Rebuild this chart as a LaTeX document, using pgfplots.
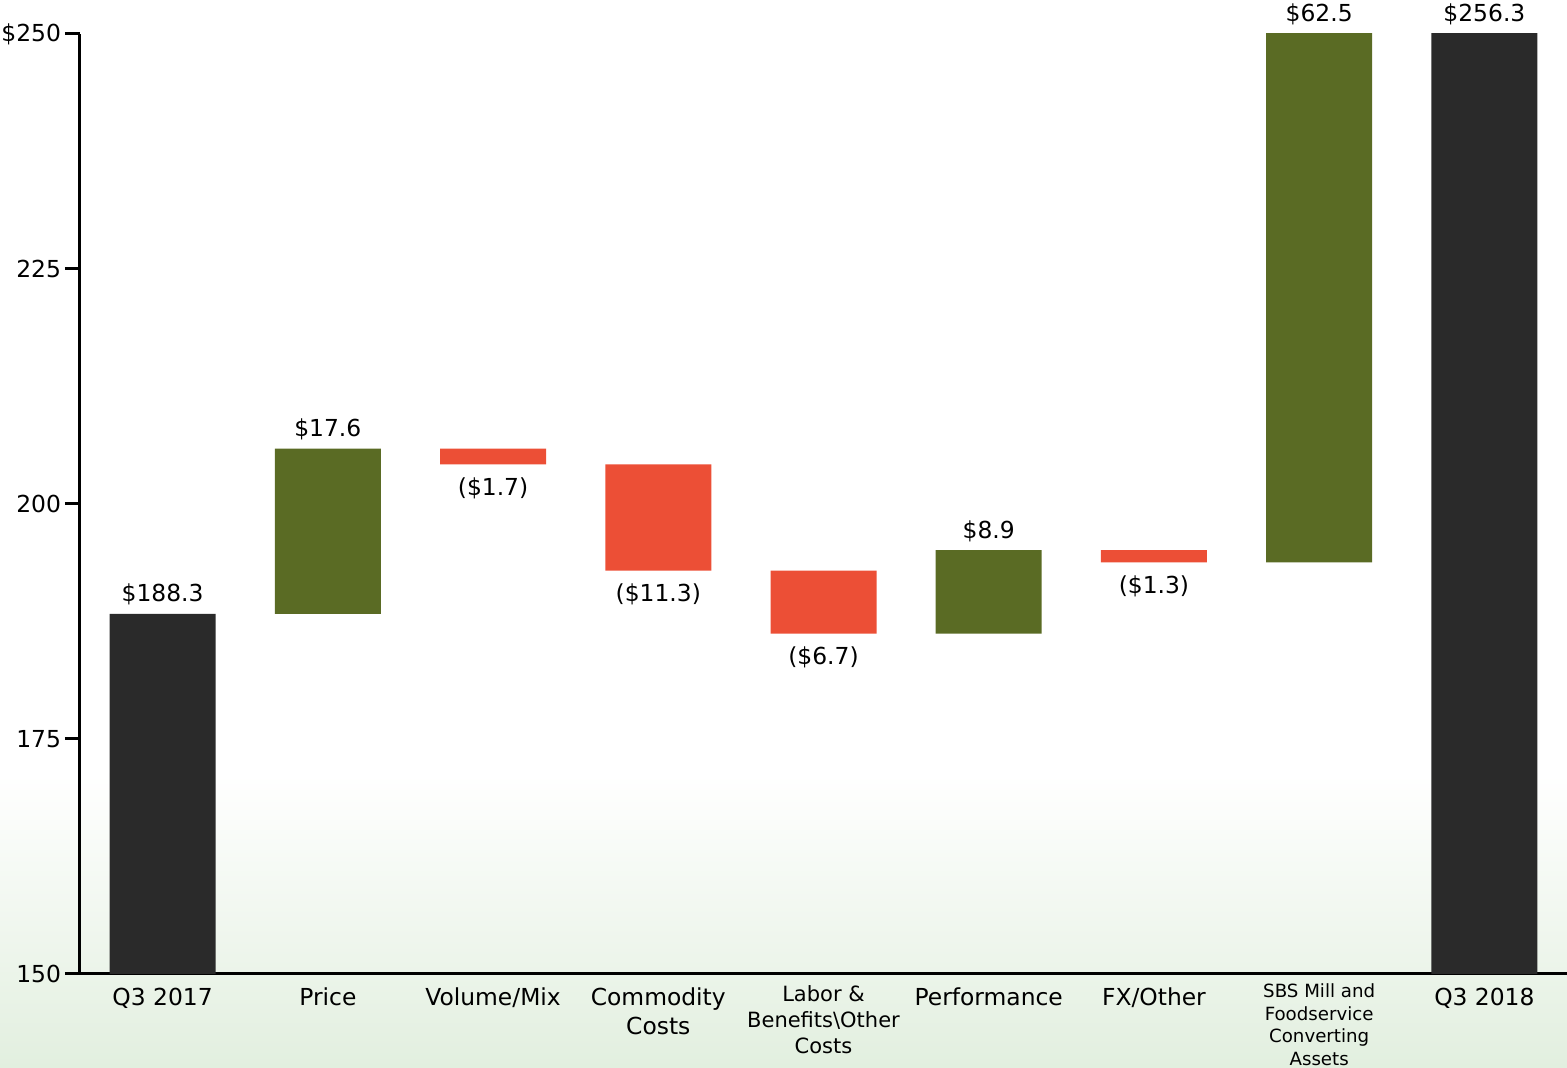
\documentclass[border=0pt]{standalone}
\usepackage{fontspec}
\setmainfont{DejaVu Sans}
\usepackage{pgfplots}
\pgfplotsset{compat=1.18}

\definecolor{bardark}{RGB}{42,42,42}
\definecolor{bargreen}{RGB}{90,107,36}
\definecolor{barred}{RGB}{236,79,54}
\definecolor{bgreen}{RGB}{226,239,223}

\newcommand\lbl{\fontsize{11.7}{14.5}\selectfont}
\newcommand\sml{\fontsize{10.5}{13}\selectfont}
\newcommand\tny{\fontsize{9.1}{11.2}\selectfont}

\begin{document}
\begin{tikzpicture}
% faint green wash at the bottom
\shade[top color=white, bottom color=bgreen] (-40pt,-47pt) rectangle (743.5pt,100pt);

\begin{axis}[
  at={(0,0)}, anchor=south west,
  scale only axis,
  width=743.5pt, height=470pt,
  ymin=150, ymax=250,
  xmin=-0.5, xmax=8.5,
  ybar stacked, bar width=53pt,
  clip mode=individual,
  axis x line=bottom, axis y line=left,
  axis line style={-, line width=1.5pt, black},
  ytick={150,175,200,225,250},
  yticklabels={150,175,200,225,\$250},
  tick align=outside,
  major tick length=7.5pt,
  ytick style={line width=1.5pt, black},
  xtick={0,...,8},
  xtick style={draw=none},
  xticklabels={Q3 2017, Price, Volume/Mix,
    {\begin{tabular}[t]{@{}c@{}}Commodity\\Costs\end{tabular}},
    {\raisebox{2pt}{\sml\begin{tabular}[t]{@{}c@{}}Labor \&\\Benefits\textbackslash Other\\Costs\end{tabular}}},
    Performance, FX/Other,
    {\raisebox{4pt}{\tny\begin{tabular}[t]{@{}c@{}}SBS Mill and\\Foodservice\\Converting\\Assets\end{tabular}}},
    Q3 2018},
  xticklabel style={anchor=base, yshift=-8.5pt, font=\lbl},
  yticklabel style={font=\lbl, xshift=1.5pt},
]
% invisible base of each floating bar
\addplot[draw=none, fill=none] coordinates {
  (0,0) (1,188.3) (2,204.2) (3,192.9) (4,186.2) (5,186.2) (6,193.8) (7,193.8) (8,0)};
% totals
\addplot[draw=none, fill=bardark] coordinates {
  (0,188.3) (1,0) (2,0) (3,0) (4,0) (5,0) (6,0) (7,0) (8,256.3)};
% increases
\addplot[draw=none, fill=bargreen] coordinates {
  (0,0) (1,17.6) (2,0) (3,0) (4,0) (5,8.9) (6,0) (7,62.5) (8,0)};
% decreases
\addplot[draw=none, fill=barred] coordinates {
  (0,0) (1,0) (2,1.7) (3,11.3) (4,6.7) (5,0) (6,1.3) (7,0) (8,0)};

% value labels
\node[font=\lbl, anchor=base, yshift=6pt] at (axis cs:0,188.3) {\$188.3};
\node[font=\lbl, anchor=base, yshift=6pt] at (axis cs:1,205.9) {\$17.6};
\node[font=\lbl, anchor=base, yshift=-15.5pt] at (axis cs:2,204.2) {(\$1.7)};
\node[font=\lbl, anchor=base, yshift=-15.5pt] at (axis cs:3,192.9) {(\$11.3)};
\node[font=\lbl, anchor=base, yshift=-15.5pt] at (axis cs:4,186.2) {(\$6.7)};
\node[font=\lbl, anchor=base, yshift=6pt] at (axis cs:5,195.1) {\$8.9};
\node[font=\lbl, anchor=base, yshift=-15.5pt] at (axis cs:6,193.8) {(\$1.3)};
\node[font=\lbl, anchor=base, yshift=6pt] at (axis cs:7,250) {\$62.5};
\node[font=\lbl, anchor=base, yshift=6pt] at (axis cs:8,250) {\$256.3};
\end{axis}

\pgfresetboundingbox
\path (-40pt,-47pt) rectangle (743.5pt,487pt);
\end{tikzpicture}
\end{document}
